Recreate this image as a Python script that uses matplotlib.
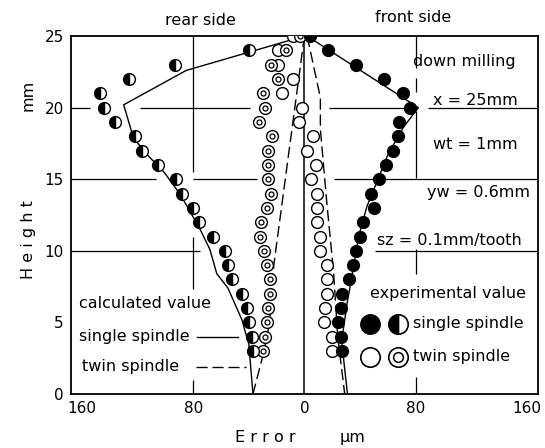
import matplotlib
matplotlib.use("Agg")
import matplotlib.pyplot as plt
from matplotlib.ticker import FuncFormatter

# ---------------- data (error in µm, height in mm) ----------------
# rear-side values are stored as magnitudes and drawn to the left of 0
exp_height = list(range(25, 2, -1))            # 25 .. 3 mm
rear_height = list(range(24, 2, -1))           # 24 .. 3 mm

single_front = [4, 17, 37, 57, 71, 76, 68, 67, 64, 59, 54, 48, 50, 42, 40,
                37, 35, 32, 27, 26, 24, 26, 27]
single_rear = [40, 93, 126, 147, 144, 136, 122, 117, 105, 92, 88, 80, 76,
               66, 57, 55, 52, 45, 41, 40, 38, 37]
twin_front = [-8, -19, -19, -8, -16, -2, -4, 6, 2, 8, 5, 9, 9, 9, 11, 11,
              16, 16, 16, 15, 14, 20, 20]
twin_rear = [3, 13, 24, 19, 30, 28, 33, 23, 26, 26, 26, 24, 27, 31, 32, 29,
             27, 25, 25, 26, 27, 28, 30]

calc_single_rear_err = [0, 85, 130, 123, 113, 101, 89, 75, 68, 63, 55, 45, 40, 37]
calc_single_rear_h = [25, 22.6, 20.2, 17.9, 16.7, 15.5, 13.9, 11.5, 10.1, 8.4, 7.4, 5.2, 3.5, 0]
calc_single_front_err = [2, 82, 71, 60, 52.5, 45, 39, 34.5, 31, 28, 27, 31]
calc_single_front_h = [25, 20, 18.6, 16.7, 14.9, 13.1, 11, 8.4, 6.5, 4.5, 3.5, 0]
calc_twin_rear_err = [0, 22, 25, 29, 37]
calc_twin_rear_h = [25, 9, 5, 3, 0]
calc_twin_front_err = [2, 11.5, 11.5, 16, 21, 24, 29]
calc_twin_front_h = [25, 20.7, 18.5, 13.5, 8.5, 4, 0]

x_ticks = [-160, -80, 0, 80, 160]
y_ticks = [0, 5, 10, 15, 20, 25]

FS = 11.5
plt.rcParams["font.family"] = ["DejaVu Sans"]

fig = plt.figure(figsize=(5.45, 4.48), dpi=100)
ax = fig.add_axes([0.130, 0.1205, 0.857, 0.799])
ax.set_xlim(-168, 168)
ax.set_ylim(0, 25)

neg = lambda v: [-a for a in v]

# ---------------- broken grid lines ----------------
glw = 0.9
hsegs = [(20, -168, -154), (20, -118, -39), (20, 18, 76), (20, 89, 168),
         (15, -168, -107), (15, -80, -34), (15, 21, 168),
         (10, -168, -75), (10, 51, 168)]
vsegs = [(-80, 25, 15.5), (-80, 11, 7.3), (-80, 1.0, 0),
         (80, 25, 22.8), (80, 22.1, 21.1), (80, 19.8, 15.1), (80, 10.1, 8.4), (80, 1.2, 0)]
for y, x0, x1 in hsegs:
    ax.plot([x0, x1], [y, y], color="black", lw=glw, zorder=1, solid_capstyle="butt")
for x, y0, y1 in vsegs:
    ax.plot([x, x], [y0, y1], color="black", lw=glw, zorder=1, solid_capstyle="butt")
ax.axvline(0, color="black", lw=1.1, zorder=1)

# ---------------- calculated lines ----------------
dash = (0, (8, 3.5))
ax.plot(neg(calc_single_rear_err), calc_single_rear_h, color="black", lw=1.0, zorder=2)
ax.plot(calc_single_front_err, calc_single_front_h, color="black", lw=1.0, zorder=2)
ax.plot(neg(calc_twin_rear_err), calc_twin_rear_h, color="black", lw=1.0, ls=dash, zorder=2)
ax.plot(calc_twin_front_err, calc_twin_front_h, color="black", lw=1.0, ls=dash, zorder=2)

# ---------------- experimental points ----------------
ms = 8.5
mew = 1.0
ax.plot(twin_front, exp_height, "o", ms=ms, mfc="white", mec="black", mew=mew, zorder=3)
ax.plot(neg(twin_rear), exp_height, "o", ms=ms, mfc="white", mec="black", mew=mew, zorder=3)
ax.plot(neg(twin_rear), exp_height, "o", ms=3.6, mfc="white", mec="black", mew=0.9, zorder=4)
ax.plot(single_front, exp_height, "o", ms=ms, mfc="black", mec="black", mew=mew, zorder=3)
ax.plot(neg(single_rear), rear_height, "o", ms=ms, mfc="black", mec="black", mew=mew,
        fillstyle="left", markerfacecoloralt="white", zorder=3)

# ---------------- axes styling ----------------
for s in ax.spines.values():
    s.set_linewidth(1.3)
ax.set_xticks(x_ticks)
ax.set_yticks(y_ticks)
ax.xaxis.set_major_formatter(FuncFormatter(lambda v, p: f"{abs(int(v))}"))
ax.tick_params(length=0, labelsize=11, pad=5)

# ---------------- texts ----------------
ax.text(-75, 26.1, "rear side", ha="center", va="center", fontsize=FS, clip_on=False)
ax.text(78, 26.3, "front side", ha="center", va="center", fontsize=FS, clip_on=False)

ax.text(78.4, 23.2, "down milling", ha="left", va="center", fontsize=FS)
ax.text(92.8, 20.5, "x = 25mm", ha="left", va="center", fontsize=FS)
ax.text(92.8, 17.4, "wt = 1mm", ha="left", va="center", fontsize=FS)
ax.text(88, 14.1, "yw = 0.6mm", ha="left", va="center", fontsize=FS)
ax.text(52.5, 10.75, "sz = 0.1mm/tooth", ha="left", va="center", fontsize=FS)

ax.text(47.5, 7.05, "experimental value", ha="left", va="center", fontsize=FS)
ax.plot([47.5], [4.9], "o", ms=14, mfc="black", mec="black", mew=1)
ax.plot([67], [4.9], "o", ms=14, mfc="black", mec="black", mew=1.2,
        fillstyle="left", markerfacecoloralt="white")
ax.text(78.4, 4.9, "single spindle", ha="left", va="center", fontsize=FS)
ax.plot([47.5], [2.6], "o", ms=14, mfc="white", mec="black", mew=1.2)
ax.plot([67], [2.6], "o", ms=14, mfc="white", mec="black", mew=1.2)
ax.plot([67], [2.6], "o", ms=7, mfc="white", mec="black", mew=1.1)
ax.text(78.4, 2.6, "twin spindle", ha="left", va="center", fontsize=FS)

ax.text(-162, 6.35, "calculated value", ha="left", va="center", fontsize=FS)
ax.text(-162, 4.0, "single spindle", ha="left", va="center", fontsize=FS)
ax.plot([-77, -48], [4.0, 4.0], color="black", lw=1.0)
ax.text(-160, 1.9, "twin spindle", ha="left", va="center", fontsize=FS)
ax.plot([-78, -42], [1.9, 1.9], color="black", lw=1.0, ls=dash)

fig.text(28 / 545, 1 - 240 / 448, "H e i g h t", rotation=90, ha="center", va="center",
         fontsize=FS)
fig.text(28 / 545, 1 - 95 / 448, "mm", rotation=90, ha="center", va="center", fontsize=FS)
fig.text(265 / 545, 1 - 437 / 448, "E r r o r", ha="center", va="center", fontsize=FS)
fig.text(353 / 545, 1 - 437 / 448, "µm", ha="center", va="center", fontsize=FS)

fig.savefig("out.png", dpi=100)
